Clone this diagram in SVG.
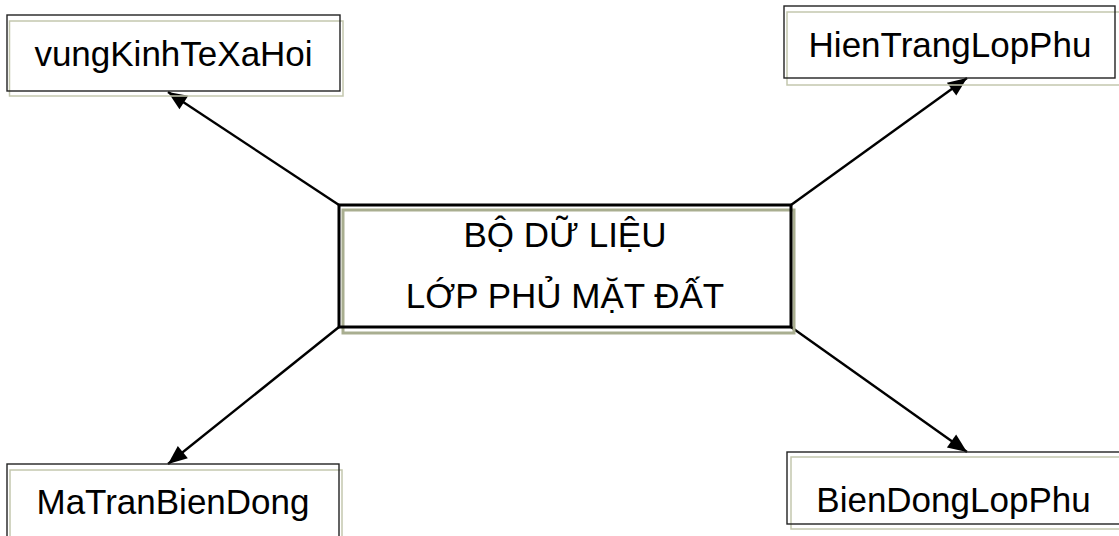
<svg xmlns="http://www.w3.org/2000/svg" width="1119" height="536" viewBox="0 0 1119 536">
<style>
.bg{fill:#ffffff}
.sh{fill:none;stroke:#c4c7ae;stroke-width:1.5}
.bx{fill:none;stroke:#222222;stroke-width:1.4}
.shc{fill:none;stroke:#a9ae90;stroke-width:3}
.bxc{fill:none;stroke:#000000;stroke-width:3}
.t{font-family:"Liberation Sans",Arial,sans-serif;font-size:35px;fill:#000000;text-anchor:middle}
.c{stroke:#000000;stroke-width:2.4;fill:none;marker-end:url(#ah)}
</style>
<defs>
<marker id="ah" markerUnits="userSpaceOnUse" markerWidth="22" markerHeight="20" viewBox="0 0 22 20" refX="20" refY="10" orient="auto">
<path d="M1,2 L20,10 L1,18 Z" fill="#000000"/>
</marker>
</defs>
<rect class="bg" x="0" y="0" width="1119" height="536"/>
<g id="connectors">
<line class="c" x1="339" y1="205" x2="168" y2="92"/>
<line class="c" x1="791" y1="205" x2="967" y2="78"/>
<line class="c" x1="339" y1="327" x2="168" y2="464"/>
<line class="c" x1="791" y1="327" x2="967" y2="452"/>
</g>
<g id="center">
<rect class="shc" x="343" y="210" width="451" height="123"/>
<rect class="bxc" x="339" y="205" width="452" height="122"/>
<text class="t" x="565" y="247">BỘ DỮ LIỆU</text>
<text class="t" x="565" y="308">LỚP PHỦ MẶT ĐẤT</text>
</g>
<g id="vungKinhTeXaHoi">
<rect class="sh" x="9.5" y="21" width="333.5" height="75"/>
<rect class="bx" x="7" y="15" width="333" height="76"/>
<text class="t" x="173.5" y="65.5">vungKinhTeXaHoi</text>
</g>
<g id="HienTrangLopPhu">
<rect class="sh" x="787" y="12" width="340" height="73"/>
<rect class="bx" x="784" y="6" width="331" height="72"/>
<text class="t" x="950" y="57">HienTrangLopPhu</text>
</g>
<g id="MaTranBienDong">
<rect class="sh" x="10" y="470" width="332" height="80"/>
<rect class="bx" x="7" y="464" width="332" height="80"/>
<text class="t" x="173" y="514">MaTranBienDong</text>
</g>
<g id="BienDongLopPhu">
<rect class="sh" x="791" y="457" width="340" height="72"/>
<rect class="bx" x="787" y="452" width="340" height="72"/>
<text class="t" x="953.5" y="512">BienDongLopPhu</text>
</g>
</svg>
